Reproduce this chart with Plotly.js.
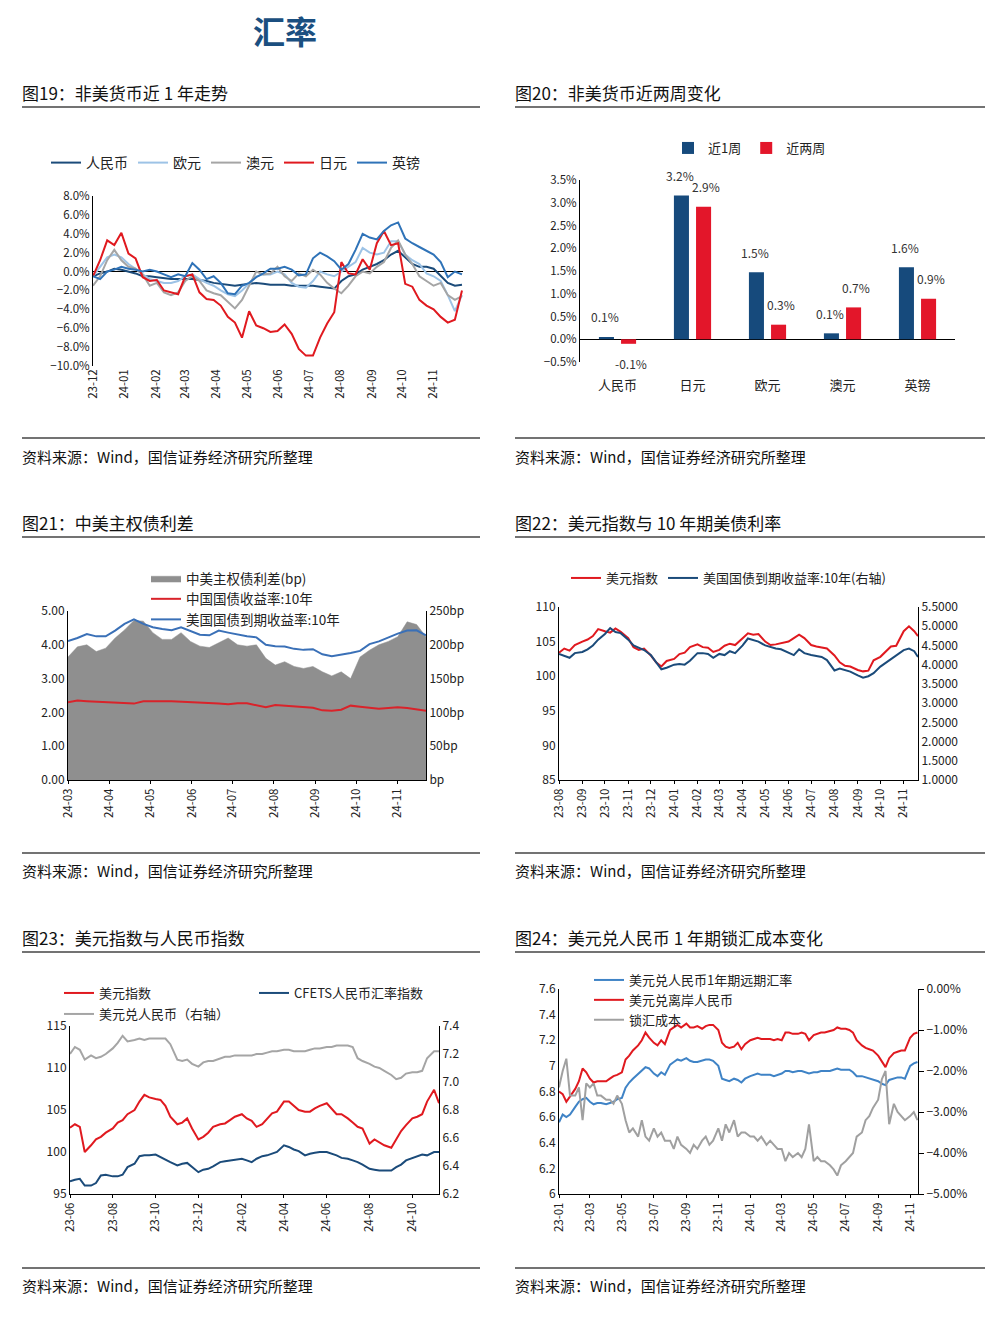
<!DOCTYPE html>
<html><head><meta charset="utf-8">
<script src="https://cdn.plot.ly/plotly-3.0.1.min.js"></script>
<style>html,body{margin:0;padding:0;background:#fff;}#c{width:996px;height:1318px;}</style>
</head><body><div id="c"></div>
<script>
// ---------- 图19 非美货币近1年走势 (%)
const d19 = ['2023-12-01','2023-12-08','2023-12-15','2023-12-22','2023-12-29','2024-01-05','2024-01-12','2024-01-19','2024-01-26','2024-02-02','2024-02-09','2024-02-16','2024-02-23','2024-03-01','2024-03-08','2024-03-15','2024-03-22','2024-03-29','2024-04-05','2024-04-12','2024-04-19','2024-04-26','2024-05-03','2024-05-10','2024-05-17','2024-05-24','2024-05-31','2024-06-07','2024-06-14','2024-06-21','2024-06-28','2024-07-05','2024-07-12','2024-07-19','2024-07-26','2024-08-02','2024-08-09','2024-08-16','2024-08-23','2024-08-30','2024-09-06','2024-09-13','2024-09-20','2024-09-27','2024-10-04','2024-10-11','2024-10-18','2024-10-25','2024-11-01','2024-11-08','2024-11-15','2024-11-22','2024-11-29'];
const cny19 = [-0.5,-0.2,0.0,0.3,0.2,0.0,-0.2,-0.5,-0.5,-0.6,-0.7,-0.8,-0.8,-0.8,-0.8,-0.9,-1.0,-1.2,-1.3,-1.4,-1.5,-1.4,-1.3,-1.2,-1.3,-1.4,-1.4,-1.4,-1.5,-1.5,-1.5,-1.5,-1.6,-1.7,-1.8,-1.0,-0.5,-0.3,0.2,0.5,0.8,1.2,1.8,2.2,1.5,0.8,0.5,0.5,0.3,-0.5,-1.2,-1.5,-1.4];
const eur19 = [-0.5,0.5,1.5,1.8,1.5,0.8,0.3,-0.3,-0.8,-1.0,-1.2,-1.2,-1.0,-0.5,-0.3,-0.8,-1.2,-1.5,-2.0,-2.4,-2.6,-2.0,-1.3,-0.5,-0.3,-0.3,0.0,-0.3,-1.2,-1.6,-1.7,-1.0,0.0,-0.3,-0.5,0.0,0.5,1.0,2.5,2.0,1.8,2.0,3.2,3.2,1.8,1.2,0.8,-0.2,-0.5,-1.0,-2.5,-4.2,-2.5];
const aud19 = [-1.5,-0.5,1.2,2.3,1.2,0.5,0.3,-0.3,-1.5,-1.2,-2.2,-2.5,-2.2,-1.0,-0.5,-1.0,-2.0,-2.3,-2.5,-3.2,-3.9,-3.0,-1.5,0.0,-0.3,-0.2,0.5,-0.5,-1.0,-0.2,-0.5,0.2,-0.3,-1.2,-1.8,-2.3,-1.5,-0.5,0.0,-0.2,0.5,1.0,2.5,3.3,1.8,0.8,-0.5,-1.0,-1.5,-1.2,-2.5,-3.0,-2.6];
const jpy19 = [-0.5,1.2,3.3,2.8,4.1,1.9,1.4,-0.6,-1.0,-0.9,-2.0,-2.2,-2.4,-0.5,-0.3,-2.2,-2.9,-3.0,-3.6,-4.8,-5.4,-7.0,-4.2,-5.7,-6.0,-6.4,-6.3,-5.6,-6.6,-8.2,-8.9,-8.9,-7.0,-5.5,-4.3,1.0,-0.2,-0.3,1.3,0.2,3.0,4.3,2.8,3.0,-1.3,-1.6,-3.0,-3.6,-4.0,-4.8,-5.4,-5.1,-2.0];
const gbp19 = [-0.5,-0.8,0.0,0.2,0.5,0.3,0.2,0.0,0.2,0.0,-0.3,-0.6,-0.3,-0.5,0.9,0.2,-0.8,-0.5,-1.2,-2.3,-2.4,-1.5,-1.2,-0.6,-0.2,0.3,0.3,0.5,0.2,-0.4,-0.3,1.4,2.0,1.6,1.1,0.2,0.8,2.3,4.0,3.6,3.4,4.3,4.9,5.2,3.5,3.0,2.6,2.2,1.8,1.0,-0.6,0.0,-0.3];

// ---------- 图20 非美货币近两周变化 (%)
const cats20 = ['人民币','日元','欧元','澳元','英镑'];
const wk1_20 = [0.05,3.16,1.47,0.13,1.58];
const wk2_20 = [-0.1,2.91,0.32,0.70,0.89];

// ---------- 图21 中美主权债利差
const d21 = ['2024-03-01','2024-03-08','2024-03-15','2024-03-22','2024-03-29','2024-04-05','2024-04-12','2024-04-19','2024-04-26','2024-05-03','2024-05-10','2024-05-17','2024-05-24','2024-05-31','2024-06-07','2024-06-14','2024-06-21','2024-06-28','2024-07-05','2024-07-12','2024-07-19','2024-07-26','2024-08-02','2024-08-09','2024-08-16','2024-08-23','2024-08-30','2024-09-06','2024-09-13','2024-09-20','2024-09-27','2024-10-04','2024-10-11','2024-10-18','2024-10-25','2024-11-01','2024-11-08','2024-11-15','2024-11-22'];
const spread21 = [182,197,200,190,195,210,222,236,235,218,208,208,218,205,198,196,203,210,200,198,200,180,170,175,168,165,168,160,154,160,150,182,192,200,205,212,234,230,212];
const cn10y21 = [2.30,2.35,2.33,2.32,2.31,2.29,2.28,2.26,2.33,2.34,2.33,2.33,2.32,2.30,2.29,2.28,2.26,2.24,2.27,2.27,2.22,2.15,2.22,2.20,2.19,2.18,2.14,2.06,2.05,2.08,2.20,2.17,2.14,2.11,2.13,2.15,2.13,2.10,2.05];
const us10y21 = [4.11,4.20,4.32,4.25,4.25,4.42,4.62,4.75,4.62,4.52,4.47,4.43,4.52,4.42,4.30,4.28,4.42,4.36,4.30,4.25,4.22,4.00,3.96,3.95,3.88,3.85,3.87,3.72,3.66,3.70,3.76,3.82,4.02,4.10,4.22,4.33,4.42,4.43,4.28];
const bpTicks21 = [0,50,100,150,200,250];
const bpText21 = ['bp','50bp','100bp','150bp','200bp','250bp'];

// ---------- 图22 美元指数与10年期美债利率
const d22 = ['2023-08-01','2023-08-08','2023-08-15','2023-08-22','2023-09-01','2023-09-08','2023-09-15','2023-09-22','2023-10-01','2023-10-08','2023-10-15','2023-10-22','2023-11-01','2023-11-08','2023-11-15','2023-11-22','2023-12-01','2023-12-08','2023-12-15','2023-12-22','2024-01-01','2024-01-08','2024-01-15','2024-01-22','2024-02-01','2024-02-08','2024-02-15','2024-02-22','2024-03-01','2024-03-08','2024-03-15','2024-03-22','2024-04-01','2024-04-08','2024-04-15','2024-04-22','2024-05-01','2024-05-08','2024-05-15','2024-05-22','2024-06-01','2024-06-08','2024-06-15','2024-06-22','2024-07-01','2024-07-08','2024-07-15','2024-07-22','2024-08-01','2024-08-08','2024-08-15','2024-08-22','2024-09-01','2024-09-08','2024-09-15','2024-09-22','2024-10-01','2024-10-08','2024-10-15','2024-10-22','2024-11-01','2024-11-08','2024-11-15','2024-11-20'];
const dxy22 = [103.4,104.0,103.7,104.5,105.0,105.3,105.8,106.8,106.5,106.3,106.9,106.4,105.5,104.2,103.8,104.0,103.0,102.0,101.4,102.2,102.5,103.2,103.4,104.2,104.6,104.2,104.1,103.5,103.8,104.4,104.7,104.5,105.5,106.2,106.0,106.1,105.0,104.5,104.6,104.8,105.0,105.5,106.0,105.5,104.5,104.3,104.2,104.0,103.0,102.0,101.5,101.4,100.9,100.7,100.8,102.3,102.8,103.6,104.3,104.4,106.5,107.2,106.5,105.8];
const ust22 = [4.28,4.22,4.18,4.30,4.33,4.40,4.50,4.65,4.80,4.95,4.85,4.82,4.65,4.50,4.45,4.38,4.25,4.05,3.88,3.92,4.00,4.02,4.00,4.10,4.30,4.30,4.28,4.18,4.28,4.25,4.35,4.30,4.50,4.68,4.65,4.60,4.50,4.45,4.42,4.40,4.30,4.25,4.40,4.30,4.25,4.22,4.20,4.12,3.85,3.90,3.85,3.82,3.72,3.66,3.70,3.78,3.95,4.05,4.15,4.25,4.38,4.42,4.35,4.20];

// ---------- 图23 美元指数与人民币指数
const d23 = ['2023-06-01','2023-06-08','2023-06-15','2023-06-22','2023-07-01','2023-07-08','2023-07-15','2023-07-22','2023-08-01','2023-08-08','2023-08-15','2023-08-22','2023-09-01','2023-09-08','2023-09-15','2023-09-22','2023-10-01','2023-10-08','2023-10-15','2023-10-22','2023-11-01','2023-11-08','2023-11-15','2023-11-22','2023-12-01','2023-12-08','2023-12-15','2023-12-22','2024-01-01','2024-01-08','2024-01-15','2024-01-22','2024-02-01','2024-02-08','2024-02-15','2024-02-22','2024-03-01','2024-03-08','2024-03-15','2024-03-22','2024-04-01','2024-04-08','2024-04-15','2024-04-22','2024-05-01','2024-05-08','2024-05-15','2024-05-22','2024-06-01','2024-06-08','2024-06-15','2024-06-22','2024-07-01','2024-07-08','2024-07-15','2024-07-22','2024-08-01','2024-08-08','2024-08-15','2024-08-22','2024-09-01','2024-09-08','2024-09-15','2024-09-22','2024-10-01','2024-10-08','2024-10-15','2024-10-22','2024-11-01','2024-11-08'];
const dxy23 = [102.9,103.3,103.0,100.0,100.8,101.5,101.8,102.3,102.8,103.5,103.8,104.5,105.0,106.0,106.8,106.5,106.3,106.2,105.5,104.2,103.3,103.5,104.0,102.8,101.5,101.8,102.3,103.0,103.3,103.4,103.8,104.2,104.5,104.0,103.7,103.0,103.3,104.0,104.6,104.8,106.0,106.0,105.5,105.0,104.8,104.8,105.2,105.5,105.8,105.2,104.5,104.5,104.0,103.5,103.0,102.8,101.0,101.5,101.2,100.8,100.5,101.5,102.5,103.2,104.0,104.2,104.5,106.0,107.4,105.8];
const cfets23 = [96.5,96.7,96.8,96.0,96.0,96.3,97.2,97.3,97.1,97.1,97.3,98.2,98.6,99.5,99.6,99.6,99.7,99.4,99.0,98.8,98.4,98.6,98.7,98.2,97.6,97.9,98.0,98.3,98.8,98.9,99.0,99.1,99.2,99.0,98.8,99.2,99.5,99.6,99.8,100.0,100.8,100.6,100.3,100.1,99.6,99.8,99.9,100.0,100.0,99.8,99.6,99.3,99.2,99.0,98.8,98.5,98.0,97.9,97.8,97.8,97.8,98.2,98.5,99.0,99.3,99.5,99.7,99.6,100.0,100.0];
const usdcny23 = [7.20,7.25,7.23,7.16,7.19,7.17,7.18,7.20,7.24,7.28,7.33,7.29,7.30,7.31,7.30,7.31,7.31,7.31,7.31,7.27,7.16,7.15,7.16,7.13,7.11,7.14,7.15,7.15,7.17,7.18,7.18,7.19,7.19,7.19,7.19,7.20,7.20,7.21,7.22,7.22,7.23,7.23,7.22,7.22,7.22,7.23,7.24,7.24,7.25,7.25,7.26,7.26,7.26,7.25,7.17,7.15,7.13,7.11,7.10,7.08,7.05,7.02,7.03,7.06,7.07,7.07,7.08,7.17,7.22,7.22];

// ---------- 图24 美元兑人民币1年期锁汇成本变化
const d24 = ['2023-01-01','2023-01-08','2023-01-15','2023-01-22','2023-02-01','2023-02-08','2023-02-15','2023-02-22','2023-03-01','2023-03-08','2023-03-15','2023-03-22','2023-04-01','2023-04-08','2023-04-15','2023-04-22','2023-05-01','2023-05-08','2023-05-15','2023-05-22','2023-06-01','2023-06-08','2023-06-15','2023-06-22','2023-07-01','2023-07-08','2023-07-15','2023-07-22','2023-08-01','2023-08-08','2023-08-15','2023-08-22','2023-09-01','2023-09-08','2023-09-15','2023-09-22','2023-10-01','2023-10-08','2023-10-15','2023-10-22','2023-11-01','2023-11-08','2023-11-15','2023-11-22','2023-12-01','2023-12-08','2023-12-15','2023-12-22','2024-01-01','2024-01-08','2024-01-15','2024-01-22','2024-02-01','2024-02-08','2024-02-15','2024-02-22','2024-03-01','2024-03-08','2024-03-15','2024-03-22','2024-04-01','2024-04-08','2024-04-15','2024-04-22','2024-05-01','2024-05-08','2024-05-15','2024-05-22','2024-06-01','2024-06-08','2024-06-15','2024-06-22','2024-07-01','2024-07-08','2024-07-15','2024-07-22','2024-08-01','2024-08-08','2024-08-15','2024-08-22','2024-09-01','2024-09-08','2024-09-15','2024-09-22','2024-10-01','2024-10-08','2024-10-15','2024-10-22','2024-11-01','2024-11-08','2024-11-15'];
const fwd24 = [6.56,6.62,6.60,6.62,6.68,6.72,6.74,6.75,6.72,6.70,6.71,6.71,6.70,6.71,6.72,6.74,6.75,6.83,6.87,6.90,6.94,6.96,6.99,6.98,6.94,6.92,6.95,6.93,7.01,7.03,7.05,7.04,7.06,7.04,7.03,7.03,7.04,7.05,7.05,7.04,7.00,6.90,6.89,6.88,6.90,6.89,6.87,6.90,6.92,6.93,6.94,6.93,6.93,6.93,6.92,6.93,6.94,6.96,6.96,6.95,6.96,6.96,6.95,6.94,6.95,6.95,6.96,6.96,6.96,6.97,6.98,6.97,6.97,6.97,6.95,6.92,6.92,6.91,6.90,6.89,6.88,6.86,6.85,6.89,6.90,6.91,6.91,6.90,7.00,7.02,7.03];
const cnh24 = [6.80,6.78,6.72,6.76,6.82,6.88,6.98,6.95,6.90,6.87,6.88,6.88,6.88,6.90,6.92,6.93,6.95,7.05,7.08,7.12,7.16,7.20,7.26,7.22,7.18,7.16,7.20,7.17,7.28,7.30,7.32,7.30,7.33,7.30,7.30,7.31,7.29,7.31,7.32,7.32,7.28,7.18,7.15,7.14,7.15,7.18,7.13,7.17,7.20,7.21,7.22,7.21,7.21,7.21,7.20,7.21,7.20,7.26,7.26,7.25,7.25,7.26,7.25,7.20,7.24,7.25,7.26,7.26,7.27,7.28,7.30,7.29,7.29,7.28,7.26,7.20,7.16,7.14,7.13,7.12,7.08,7.03,6.99,7.06,7.10,7.11,7.12,7.12,7.22,7.25,7.26];
const cost24 = [-2.4,-2.0,-1.7,-2.6,-2.6,-2.4,-3.2,-2.3,-2.4,-2.3,-2.6,-2.6,-2.7,-2.7,-2.8,-2.6,-2.8,-3.2,-3.5,-3.4,-3.6,-3.2,-3.6,-3.7,-3.4,-3.6,-3.5,-3.7,-3.7,-3.9,-3.6,-3.8,-3.9,-4.0,-3.8,-3.9,-3.7,-3.6,-3.8,-3.7,-3.4,-3.7,-3.3,-3.5,-3.2,-3.6,-3.5,-3.5,-3.6,-3.6,-3.7,-3.6,-3.8,-3.7,-3.8,-3.9,-3.9,-4.2,-4.0,-4.1,-4.0,-4.1,-3.9,-3.3,-4.2,-4.1,-4.2,-4.2,-4.3,-4.4,-4.55,-4.3,-4.2,-4.1,-4.0,-3.6,-3.5,-3.2,-3.1,-2.9,-2.7,-2.2,-2.0,-3.3,-2.8,-3.0,-3.1,-3.2,-3.1,-3.0,-3.2];

// ---------- styling
const F = '"Noto Sans CJK SC","Noto Sans",sans-serif';
const W = 996, H = 1318;
const P = x => x / W, Q = y => 1 - y / H;
const NAVY = '#1b4b7a', LBLUE = '#9dc3e6', GRAY = '#a5a5a5', RED = '#e0191f', MBLUE = '#2f73b8';
const tf = (s) => ({family: F, size: s, color: '#222'});

function yax(o) { return Object.assign({showgrid:false, zeroline:false, showline:true, linecolor:'#000', linewidth:1, ticks:'', tickfont:tf(11.5), fixedrange:true}, o); }
function xdate(o) { return Object.assign({type:'date', showgrid:false, zeroline:false, showline:true, linecolor:'#000', linewidth:1, ticks:'outside', ticklen:3, tickcolor:'#000', tickformat:'%y-%m', tickangle:-90, tickfont:tf(11.5), fixedrange:true}, o); }

const traces = [];
const ln = (x, y, name, color, xa, ya, lg, w) => ({type:'scatter', mode:'lines', x, y, name, xaxis:xa, yaxis:ya, legend:lg, line:{color, width:w || 2}, hoverinfo:'skip'});

// chart 19
traces.push(ln(d19, cny19, '人民币', NAVY, 'x', 'y', 'legend'));
traces.push(ln(d19, eur19, '欧元', LBLUE, 'x', 'y', 'legend'));
traces.push(ln(d19, aud19, '澳元', GRAY, 'x', 'y', 'legend'));
traces.push(ln(d19, jpy19, '日元', RED, 'x', 'y', 'legend'));
traces.push(ln(d19, gbp19, '英镑', MBLUE, 'x', 'y', 'legend'));

// chart 20
traces.push({type:'bar', x:cats20, y:wk1_20, name:'近1周', marker:{color:'#164a7c'}, xaxis:'x2', yaxis:'y2', legend:'legend2', hoverinfo:'skip'});
traces.push({type:'bar', x:cats20, y:wk2_20, name:'近两周', marker:{color:'#e3162a'}, xaxis:'x2', yaxis:'y2', legend:'legend2', hoverinfo:'skip'});

// chart 21
traces.push({type:'scatter', mode:'lines', x:d21, y:spread21, name:'中美主权债利差(bp)', fill:'tozeroy', fillcolor:'#8f8f8f', line:{color:'#8f8f8f', width:0.5}, xaxis:'x3', yaxis:'y3', legend:'legend3', hoverinfo:'skip'});
traces.push(ln(d21, cn10y21, '中国国债收益率:10年', '#d9232a', 'x3', 'y4', 'legend3'));
traces.push(ln(d21, us10y21, '美国国债到期收益率:10年', '#3a70b7', 'x3', 'y4', 'legend3'));

// chart 22
traces.push(ln(d22, dxy22, '美元指数', RED, 'x4', 'y5', 'legend4'));
traces.push(ln(d22, ust22, '美国国债到期收益率:10年(右轴)', NAVY, 'x4', 'y6', 'legend4'));

// chart 23
traces.push(ln(d23, dxy23, '美元指数', RED, 'x5', 'y7', 'legend5'));
traces.push(ln(d23, cfets23, 'CFETS人民币汇率指数', NAVY, 'x5', 'y7', 'legend5'));
traces.push(ln(d23, usdcny23, '美元兑人民币（右轴）', GRAY, 'x5', 'y8', 'legend6'));

// chart 24
traces.push(ln(d24, fwd24, '美元兑人民币1年期远期汇率', '#3f83c6', 'x6', 'y9', 'legend7'));
traces.push(ln(d24, cnh24, '美元兑离岸人民币', RED, 'x6', 'y9', 'legend7'));
traces.push(ln(d24, cost24, '锁汇成本', '#a0a0a0', 'x6', 'y10', 'legend7'));

// annotations: header, titles, sources, bar labels
const ann = [];
const txt = (x, y, t, size, extra) => Object.assign({xref:'paper', yref:'paper', x:P(x), y:Q(y), text:t, showarrow:false, xanchor:'left', yanchor:'middle', font:{family:F, size, color:'#111'}}, extra || {});
ann.push(txt(285, 30, '<b>汇率</b>', 32, {xanchor:'center', font:{family:F, size:32, color:'#1b4f80'}}));
const titles = [[20, 92, '图19：非美货币近 1 年走势'], [513, 92, '图20：非美货币近两周变化'], [20, 522, '图21：中美主权债利差'], [513, 522, '图22：美元指数与 10 年期美债利率'], [20, 937, '图23：美元指数与人民币指数'], [513, 937, '图24：美元兑人民币 1 年期锁汇成本变化']];
titles.forEach(t => ann.push(txt(t[0], t[1], t[2], 17)));
const src = '资料来源：Wind，国信证券经济研究所整理';
[[20, 456], [513, 456], [20, 870], [513, 870], [20, 1285], [513, 1285]].forEach(s => ann.push(txt(s[0], s[1], src, 15)));
cats20.forEach((c, i) => {
  ann.push({xref:'x2', yref:'y2', x:c, y:wk1_20[i], xshift:-13, yshift: wk1_20[i] >= 0 ? 20 : -20, text: wk1_20[i].toFixed(1) + '%', showarrow:false, borderpad:0, font:{family:F, size:12, color:'#333'}});
  ann.push({xref:'x2', yref:'y2', x:c, y:wk2_20[i], xshift:13, yshift: wk2_20[i] >= 0 ? 20 : -20, text: wk2_20[i].toFixed(1) + '%', showarrow:false, borderpad:0, font:{family:F, size:12, color:'#333'}});
});

// separator rules
const shapes = [];
[107, 438, 537, 853, 952, 1268].forEach(y => {
  shapes.push({type:'line', xref:'paper', yref:'paper', x0:P(22), x1:P(480), y0:Q(y), y1:Q(y), line:{color:'#444', width:1.3}});
  shapes.push({type:'line', xref:'paper', yref:'paper', x0:P(515), x1:P(985), y0:Q(y), y1:Q(y), line:{color:'#444', width:1.3}});
});

const lgBase = {bgcolor:'rgba(0,0,0,0)', borderwidth:0, font:{family:F, size:13, color:'#222'}, xanchor:'left', yanchor:'top', itemclick:false, itemdoubleclick:false};
const layout = {
  width:W, height:H, margin:{l:0, r:0, t:0, b:0}, paper_bgcolor:'#fff', plot_bgcolor:'rgba(0,0,0,0)',
  font:{family:F}, showlegend:true, barmode:'group', bargap:0.41, bargroupgap:0.32,
  annotations:ann, shapes,
  legend: Object.assign({}, lgBase, {orientation:'h', x:P(46), y:Q(147), font:{family:F, size:14, color:'#222'}}),
  legend2: Object.assign({}, lgBase, {orientation:'h', x:P(668), y:Q(133)}),
  legend3: Object.assign({}, lgBase, {orientation:'v', x:P(146), y:Q(563), tracegroupgap:0, font:{family:F, size:13.5, color:'#222'}}),
  legend4: Object.assign({}, lgBase, {orientation:'h', x:P(566), y:Q(563)}),
  legend5: Object.assign({}, lgBase, {orientation:'h', x:P(59), y:Q(978), entrywidth:150}),
  legend6: Object.assign({}, lgBase, {orientation:'h', x:P(59), y:Q(999)}),
  legend7: Object.assign({}, lgBase, {orientation:'v', x:P(589), y:Q(965), tracegroupgap:0}),
  // chart 19
  xaxis: xdate({domain:[P(93), P(463)], anchor:'y', range:['2023-12-01','2024-11-30'], dtick:'M1', tick0:'2023-12-01', showline:false, ticks:''}),
  yaxis: yax({domain:[Q(366), Q(196)], anchor:'x', range:[-10, 8], dtick:2, tickformat:'.1f', ticksuffix:'%', zeroline:true, zerolinecolor:'#000', zerolinewidth:1.5, tickfont:tf(11.5)}),
  // chart 20
  xaxis2: {domain:[P(580), P(955)], anchor:'y2', type:'category', showline:false, showgrid:false, zeroline:false, ticks:'', ticklabelstandoff:14, tickfont:tf(13), fixedrange:true},
  yaxis2: yax({domain:[Q(362), Q(180)], anchor:'x2', range:[-0.5, 3.5], dtick:0.5, tickformat:'.1f', ticksuffix:'%', zeroline:true, zerolinecolor:'#000', zerolinewidth:1.2, tickfont:tf(11.5)}),
  // chart 21
  xaxis3: xdate({domain:[P(68), P(426)], anchor:'y3', range:['2024-03-01','2024-11-22'], dtick:'M1', tick0:'2024-03-01'}),
  yaxis3: yax({domain:[Q(780), Q(611)], anchor:'x3', side:'right', range:[0, 250], tickvals:bpTicks21, ticktext:bpText21, tickfont:tf(12)}),
  yaxis4: yax({overlaying:'y3', anchor:'x3', side:'left', range:[0, 5], dtick:1, tickformat:'.2f', tickfont:tf(12)}),
  // chart 22
  xaxis4: xdate({domain:[P(559), P(918)], anchor:'y5', range:['2023-08-01','2024-11-20'], dtick:'M1', tick0:'2023-08-01'}),
  yaxis5: yax({domain:[Q(780), Q(607)], anchor:'x4', range:[85, 110], dtick:5, tickfont:tf(12)}),
  yaxis6: yax({overlaying:'y5', anchor:'x4', side:'right', range:[1, 5.5], dtick:0.5, tickformat:'.4f', tickfont:tf(12)}),
  // chart 23
  xaxis5: xdate({domain:[P(70), P(439)], anchor:'y7', range:['2023-06-01','2024-11-08'], dtick:'M2', tick0:'2023-06-01'}),
  yaxis7: yax({domain:[Q(1194), Q(1026)], anchor:'x5', range:[95, 115], dtick:5, tickfont:tf(12)}),
  yaxis8: yax({overlaying:'y7', anchor:'x5', side:'right', range:[6.2, 7.4], dtick:0.2, tickformat:'.1f', tickfont:tf(12)}),
  // chart 24
  xaxis6: xdate({domain:[P(559), P(918)], anchor:'y9', range:['2023-01-01','2024-11-16'], dtick:'M2', tick0:'2023-01-01'}),
  yaxis9: yax({domain:[Q(1194), Q(989)], anchor:'x6', range:[6, 7.6], dtick:0.2, tickfont:tf(12)}),
  yaxis10: yax({overlaying:'y9', anchor:'x6', side:'right', range:[-5, 0], dtick:1, tickformat:'.2f', ticksuffix:'%', ticks:'outside', ticklen:5, tickcolor:'#000', tickfont:tf(12)})
};
Plotly.newPlot('c', traces, layout, {staticPlot:true, displayModeBar:false});
</script>
</body></html>
